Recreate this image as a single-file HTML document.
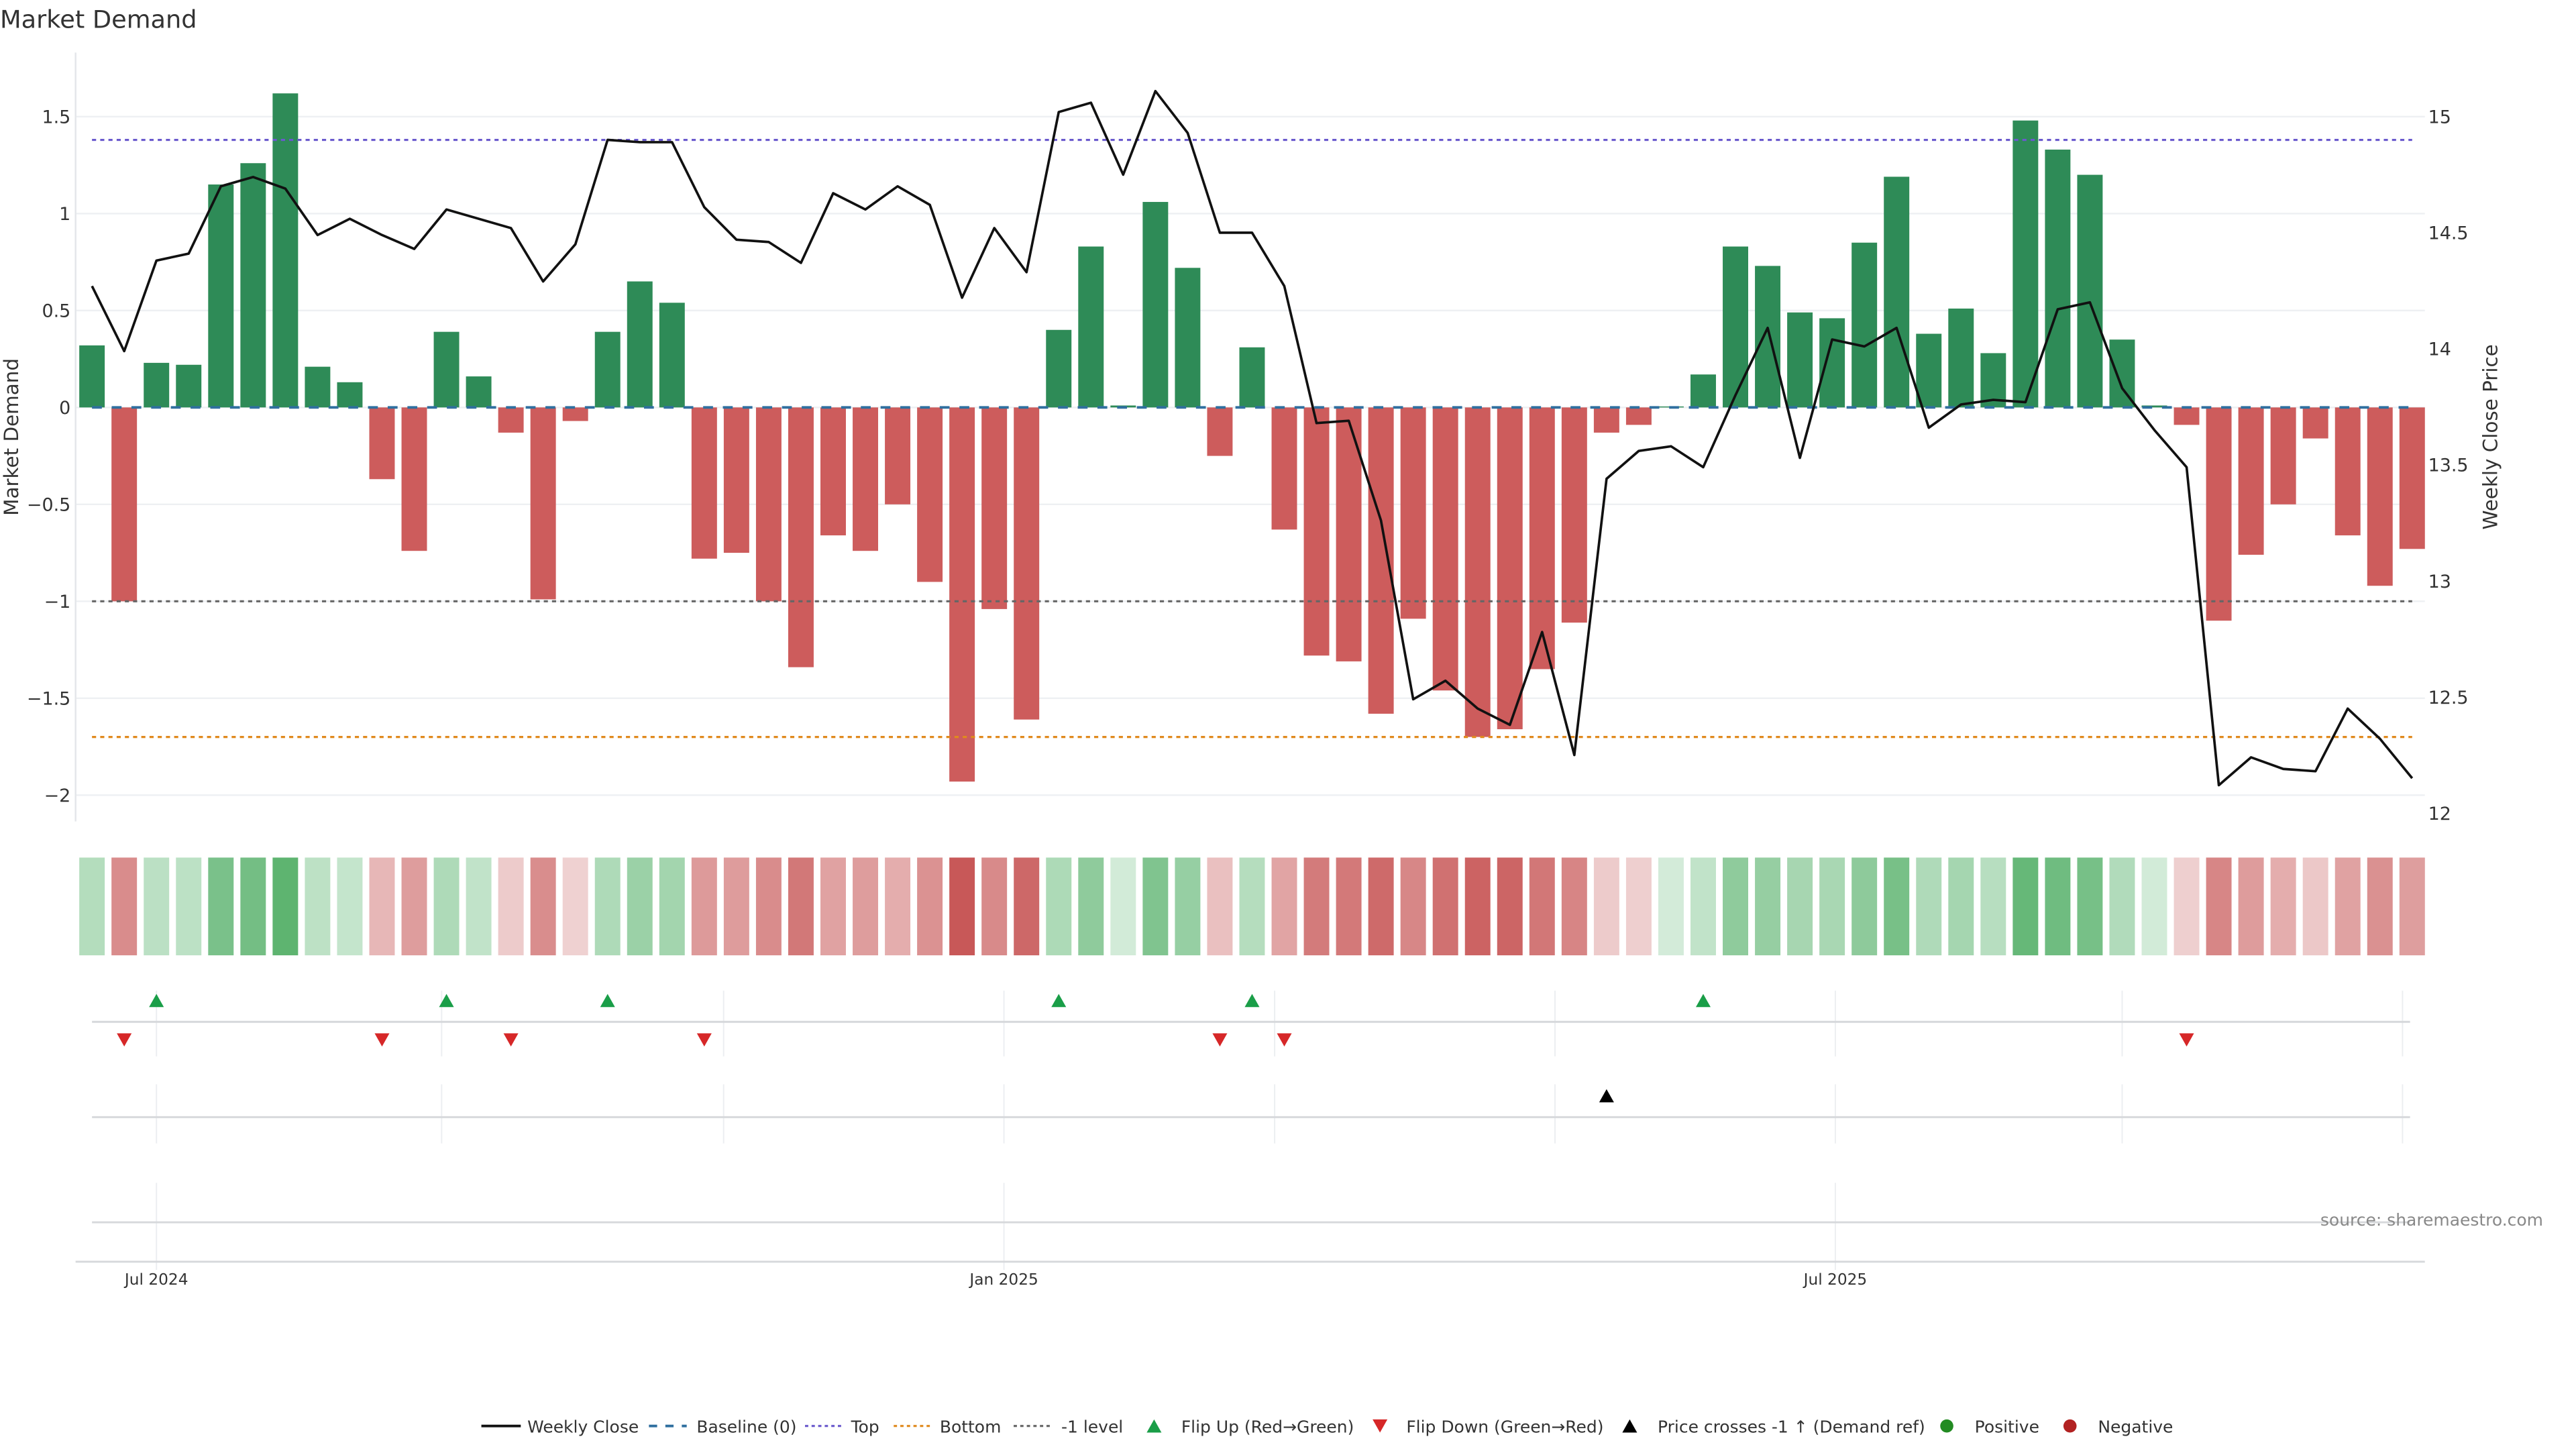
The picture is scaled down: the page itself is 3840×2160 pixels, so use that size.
<!DOCTYPE html>
<html><head><meta charset="utf-8"><style>
html,body{margin:0;padding:0;background:#fff;}
svg{display:block;font-family:"DejaVu Sans","Liberation Sans",sans-serif;}
</style></head><body>
<svg id="chart" width="3840" height="2160" viewBox="0 0 1568 882" xmlns="http://www.w3.org/2000/svg">
<text x="0" y="17" font-size="15" fill="#333">Market Demand</text>
<text transform="translate(11,266) rotate(-90)" text-anchor="middle" font-size="12" fill="#333">Market Demand</text>
<text transform="translate(1520,266) rotate(-90)" text-anchor="middle" font-size="12" fill="#333">Weekly Close Price</text>
<g id="grid"></g><g id="refs"></g><g id="bars"></g><g id="line"></g><g id="strip"></g><g id="panels"></g><g id="legend"></g>
<text x="1548" y="746" text-anchor="end" font-size="10.2" fill="#888">source: sharemaestro.com</text>
</svg>
<script>
const demand=[0.32,-1.0,0.23,0.22,1.15,1.26,1.62,0.21,0.13,-0.37,-0.74,0.39,0.16,-0.13,-0.99,-0.07,0.39,0.65,0.54,-0.78,-0.75,-1.0,-1.34,-0.66,-0.74,-0.5,-0.9,-1.93,-1.04,-1.61,0.4,0.83,0.01,1.06,0.72,-0.25,0.31,-0.63,-1.28,-1.31,-1.58,-1.09,-1.46,-1.7,-1.66,-1.35,-1.11,-0.13,-0.09,0.005,0.17,0.83,0.73,0.49,0.46,0.85,1.19,0.38,0.51,0.28,1.48,1.33,1.2,0.35,0.01,-0.09,-1.1,-0.76,-0.5,-0.16,-0.66,-0.92,-0.73];
const closePrice=[14.27,13.99,14.38,14.41,14.70,14.74,14.69,14.49,14.56,14.49,14.43,14.60,14.56,14.52,14.29,14.45,14.90,14.89,14.89,14.61,14.47,14.46,14.37,14.67,14.60,14.70,14.62,14.22,14.52,14.33,15.02,15.06,14.75,15.11,14.93,14.50,14.50,14.27,13.68,13.69,13.26,12.49,12.57,12.45,12.38,12.78,12.25,13.44,13.56,13.58,13.49,13.80,14.09,13.53,14.04,14.01,14.09,13.66,13.76,13.78,13.77,14.17,14.20,13.83,13.65,13.49,12.12,12.24,12.19,12.18,12.45,12.32,12.15];
const flipUpIdx=[2,11,16,30,36,50];
const flipDownIdx=[1,9,13,19,35,37,65];
const crossIdx=[47];
const leftTicks=[1.5,1,0.5,0,-0.5,-1,-1.5,-2];
const leftTickLabels=["1.5","1","0.5","0","\u22120.5","\u22121","\u22121.5","\u22122"];
const rightTicks=[15,14.5,14,13.5,13,12.5,12];
const refLevels=[1.38,-1.7,-1];
const dateTickIdx=[2,28.3,54.1];
const dateTickLabels=["Jul 2024","Jan 2025","Jul 2025"];
const monthGridIdx=[2,10.85,19.6,28.3,36.7,45.4,54.1,63,71.7];

const NS="http://www.w3.org/2000/svg";
function mk(tag,attrs,parent){const e=document.createElementNS(NS,tag);for(const k in attrs)e.setAttribute(k,attrs[k]);parent.appendChild(e);return e;}
const X=i=>56+i*19.615;
const Y=v=>248-v*118;
const Y2=p=>71+(15-p)*141.3;
const G=id=>document.getElementById(id);
const x0=46,x1=1476;

leftTicks.forEach((t,k)=>{
  const l=mk('line',{x1:x0,x2:x1,y1:Y(t),y2:Y(t),stroke:'#eef0f3','stroke-width':1},G('grid'));
  
  
  const tx=mk('text',{x:43,y:Y(t)+4,'text-anchor':'end','font-size':11,fill:'#333'},G('grid'));
  tx.textContent=leftTickLabels[k];
  
  
});
rightTicks.forEach(t=>{
  const tx=mk('text',{x:1478,y:Y2(t)+4,'font-size':11,fill:'#333'},G('grid'));
  tx.textContent=String(t);
  
  
});
const ax=mk('line',{x1:x0,x2:x0,y1:32,y2:500,stroke:'#e4e6ea','stroke-width':1},G('grid'));



demand.forEach((v,i)=>{
  const y=Math.min(Y(v),Y(0)),h=Math.max(Math.abs(Y(v)-Y(0)),0.6);
  const r=mk('rect',{x:X(i)-7.75,y:y,width:15.5,height:h,fill:v>=0?'#2e8b57':'#cd5c5c'},G('bars'));
  
  
});
const bl=mk('line',{x1:X(0),x2:X(72),y1:Y(0),y2:Y(0),stroke:'#2f6f9f','stroke-width':1.6,'stroke-dasharray':'6,6'},G('refs'));


const refCols=['#6a5acd','#e08a1e','#666'];
const refNames=['top-line','bottom-line','minus-one-level'];
refLevels.forEach((v,k)=>{
  const l=mk('line',{x1:X(0),x2:X(72),y1:Y(v),y2:Y(v),stroke:refCols[k],'stroke-width':1.3,'stroke-dasharray':'2.5,2.5'},G('refs'));
  
  
});
G('bars').parentNode.insertBefore(G('bars'),G('refs'));
const pl=mk('polyline',{points:closePrice.map((p,i)=>X(i)+','+Y2(p)).join(' '),fill:'none',stroke:'#111','stroke-width':1.5,'stroke-linejoin':'round'},G('line'));



function cellColor(v){
  const a=Math.min(Math.abs(v)/1.9,1);
  const lo=v>=0?[212,236,218]:[242,218,218];
  const hi=v>=0?[78,172,98]:[200,88,88];
  const c=lo.map((q,j)=>Math.round(q+(hi[j]-q)*Math.pow(a,0.8)));
  return 'rgb('+c.join(',')+')';
}
demand.forEach((v,i)=>{
  const r=mk('rect',{x:X(i)-7.75,y:522,width:15.5,height:59.5,fill:cellColor(v)},G('strip'));
  
  
});

const P=G('panels');
[[603,643],[660,696]].forEach(r=>{
  monthGridIdx.forEach(m=>{const l=mk('line',{x1:X(m),x2:X(m),y1:r[0],y2:r[1],stroke:'#eceef1','stroke-width':0.8},P);
  
  });
});
dateTickIdx.forEach(m=>{const l=mk('line',{x1:X(m),x2:X(m),y1:720,y2:773,stroke:'#eceef1','stroke-width':0.8},P);
  
  });
[622,680,744].forEach(y=>{const l=mk('line',{x1:56,x2:1467,y1:y,y2:y,stroke:'#d6d8db','stroke-width':1.2},P);
  
  });
const xa=mk('line',{x1:46,x2:1476,y1:768,y2:768,stroke:'#d6d8db','stroke-width':1.2},P);


dateTickIdx.forEach((m,k)=>{
  const t=mk('text',{x:X(m),y:782,'text-anchor':'middle','font-size':9.5,fill:'#333'},P);
  t.textContent=dateTickLabels[k];
  
  
});
const tri=(x,y,up,col)=>mk('path',{d:up?`M${x-4.5},${y+4} L${x+4.5},${y+4} L${x},${y-4} Z`:`M${x-4.5},${y-4} L${x+4.5},${y-4} L${x},${y+4} Z`,fill:col},P);
flipUpIdx.forEach(i=>{const t=tri(X(i),609,true,'#1a9e48');
  
  });
flipDownIdx.forEach(i=>{const t=tri(X(i),633,false,'#d62728');
  
  });
crossIdx.forEach(i=>{const t=tri(X(i),667,true,'#000');
  
  });

const L=G('legend');const ly=868;
function ltext(x,s,name){const t=mk('text',{x:x,y:ly+4,'font-size':10.2,fill:'#333'},L);t.textContent=s;
  
  }
mk('line',{x1:293,x2:317,y1:ly,y2:ly,stroke:'#111','stroke-width':1.6},L);ltext(321,'Weekly Close','legend-weekly-close');
mk('line',{x1:395,x2:418,y1:ly,y2:ly,stroke:'#2f6f9f','stroke-width':1.6,'stroke-dasharray':'5,5'},L);ltext(424,'Baseline (0)','legend-baseline');
mk('line',{x1:490,x2:513,y1:ly,y2:ly,stroke:'#6a5acd','stroke-width':1.3,'stroke-dasharray':'2,2'},L);ltext(518,'Top','legend-top');
mk('line',{x1:544,x2:567,y1:ly,y2:ly,stroke:'#e08a1e','stroke-width':1.3,'stroke-dasharray':'2,2'},L);ltext(572,'Bottom','legend-bottom');
mk('line',{x1:617,x2:640,y1:ly,y2:ly,stroke:'#666','stroke-width':1.3,'stroke-dasharray':'2,2'},L);ltext(646,'-1 level','legend-minus-one');
mk('path',{d:`M698,${ly+4} L707,${ly+4} L702.5,${ly-4} Z`,fill:'#1a9e48'},L);ltext(719,'Flip Up (Red\u2192Green)','legend-flip-up');
mk('path',{d:`M835.5,${ly-4} L844.5,${ly-4} L840,${ly+4} Z`,fill:'#d62728'},L);ltext(856,'Flip Down (Green\u2192Red)','legend-flip-down');
mk('path',{d:`M987.5,${ly+4} L996.5,${ly+4} L992,${ly-4} Z`,fill:'#000'},L);ltext(1009,'Price crosses -1 \u2191 (Demand ref)','legend-price-cross');
mk('circle',{cx:1185,cy:ly,r:4,fill:'#228b22'},L);ltext(1202,'Positive','legend-positive');
mk('circle',{cx:1260,cy:ly,r:4,fill:'#b22222'},L);ltext(1277,'Negative','legend-negative');
</script>
</body></html>
